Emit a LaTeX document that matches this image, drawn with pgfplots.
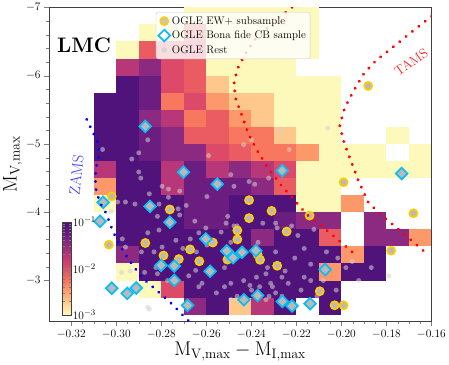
\documentclass[border=0pt]{standalone}
\usepackage{pgfplots}
\pgfplotsset{compat=1.18}
\usepgfplotslibrary{colormaps}
\usetikzlibrary{calc}
\definecolor{cbgold}{RGB}{255,205,0}
\definecolor{cbcyan}{RGB}{10,190,245}
\definecolor{ptgray}{RGB}{185,185,185}
\definecolor{restgray}{RGB}{210,210,210}
\pgfplotsset{colormap={magr}{rgb255(0pt)=(252,253,191) rgb255(10pt)=(254,207,146)
  rgb255(20pt)=(254,159,109) rgb255(30pt)=(247,112,92) rgb255(40pt)=(222,73,104)
  rgb255(50pt)=(183,55,121) rgb255(60pt)=(140,41,129) rgb255(70pt)=(100,26,128)
  rgb255(78pt)=(74,16,121)}}
% one histogram cell: 0.01 mag wide, 0.25 mag high at this axis scale
\pgfdeclareplotmark{cell}{\pgfpathrectangle{\pgfpoint{-11.8bp}{-8.95bp}}{\pgfpoint{23.6bp}{17.9bp}}\pgfusepathqfill}

% log10 density per bin (bin centres)
\pgfplotstableread{
x y c
-0.265 -6.875 -2.98
-0.255 -6.875 -2.98
-0.245 -6.875 -2.98
-0.235 -6.875 -2.98
-0.225 -6.875 -2.98
-0.215 -6.875 -2.98
-0.285 -6.625 -2.98
-0.275 -6.625 -2.98
-0.265 -6.625 -2.10
-0.255 -6.625 -2.98
-0.245 -6.625 -2.98
-0.235 -6.625 -2.98
-0.225 -6.625 -2.98
-0.215 -6.625 -2.98
-0.295 -6.375 -2.98
-0.285 -6.375 -2.10
-0.275 -6.375 -2.10
-0.265 -6.375 -1.97
-0.255 -6.375 -2.98
-0.245 -6.375 -2.98
-0.235 -6.375 -2.98
-0.225 -6.375 -2.98
-0.215 -6.375 -2.98
-0.295 -6.125 -1.72
-0.285 -6.125 -1.46
-0.275 -6.125 -1.97
-0.265 -6.125 -2.10
-0.255 -6.125 -2.98
-0.245 -6.125 -2.98
-0.235 -6.125 -2.98
-0.225 -6.125 -2.98
-0.295 -5.875 -1.05
-0.285 -5.875 -1.25
-0.275 -5.875 -1.97
-0.265 -5.875 -2.10
-0.255 -5.875 -2.70
-0.245 -5.875 -2.98
-0.235 -5.875 -2.98
-0.225 -5.875 -2.98
-0.215 -5.875 -2.98
-0.205 -5.875 -2.98
-0.305 -5.625 -1.05
-0.295 -5.625 -1.05
-0.285 -5.625 -1.25
-0.275 -5.625 -2.27
-0.265 -5.625 -1.97
-0.255 -5.625 -2.45
-0.245 -5.625 -2.70
-0.235 -5.625 -2.70
-0.225 -5.625 -2.98
-0.215 -5.625 -2.98
-0.205 -5.625 -2.98
-0.305 -5.375 -1.05
-0.295 -5.375 -1.05
-0.285 -5.375 -1.46
-0.275 -5.375 -1.72
-0.265 -5.375 -2.27
-0.255 -5.375 -2.10
-0.245 -5.375 -2.45
-0.235 -5.375 -2.70
-0.225 -5.375 -2.98
-0.215 -5.375 -2.98
-0.205 -5.375 -2.98
-0.305 -5.125 -1.05
-0.295 -5.125 -1.05
-0.285 -5.125 -1.25
-0.275 -5.125 -1.46
-0.265 -5.125 -2.10
-0.255 -5.125 -2.10
-0.245 -5.125 -2.27
-0.235 -5.125 -2.27
-0.225 -5.125 -2.70
-0.215 -5.125 -2.98
-0.205 -5.125 -2.98
-0.175 -5.125 -2.98
-0.305 -4.875 -1.05
-0.295 -4.875 -1.05
-0.285 -4.875 -1.25
-0.275 -4.875 -1.46
-0.265 -4.875 -1.46
-0.255 -4.875 -1.97
-0.245 -4.875 -2.10
-0.235 -4.875 -2.27
-0.225 -4.875 -2.27
-0.215 -4.875 -2.45
-0.205 -4.875 -2.98
-0.195 -4.875 -2.98
-0.185 -4.875 -2.98
-0.165 -4.875 -2.98
-0.305 -4.625 -1.72
-0.295 -4.625 -1.05
-0.285 -4.625 -1.05
-0.275 -4.625 -1.72
-0.265 -4.625 -1.25
-0.255 -4.625 -1.72
-0.245 -4.625 -1.46
-0.235 -4.625 -1.72
-0.225 -4.625 -1.97
-0.215 -4.625 -2.98
-0.205 -4.625 -2.98
-0.195 -4.625 -2.98
-0.185 -4.625 -2.98
-0.175 -4.625 -2.98
-0.165 -4.625 -2.98
-0.305 -4.375 -2.45
-0.295 -4.375 -1.05
-0.285 -4.375 -1.05
-0.275 -4.375 -1.72
-0.265 -4.375 -1.25
-0.255 -4.375 -1.25
-0.245 -4.375 -1.25
-0.235 -4.375 -1.46
-0.225 -4.375 -2.10
-0.215 -4.375 -2.98
-0.205 -4.375 -2.98
-0.305 -4.125 -2.98
-0.295 -4.125 -1.05
-0.285 -4.125 -1.05
-0.275 -4.125 -1.05
-0.265 -4.125 -1.25
-0.255 -4.125 -1.25
-0.245 -4.125 -1.05
-0.235 -4.125 -1.05
-0.225 -4.125 -1.05
-0.215 -4.125 -2.98
-0.205 -4.125 -2.98
-0.195 -4.125 -2.45
-0.295 -3.875 -1.05
-0.285 -3.875 -1.05
-0.275 -3.875 -1.05
-0.265 -3.875 -1.25
-0.255 -3.875 -1.25
-0.245 -3.875 -1.05
-0.235 -3.875 -1.05
-0.225 -3.875 -1.25
-0.215 -3.875 -1.46
-0.205 -3.875 -1.46
-0.185 -3.875 -1.46
-0.295 -3.625 -1.05
-0.285 -3.625 -1.05
-0.275 -3.625 -1.05
-0.265 -3.625 -1.05
-0.255 -3.625 -1.05
-0.245 -3.625 -1.05
-0.235 -3.625 -1.46
-0.225 -3.625 -1.05
-0.215 -3.625 -1.05
-0.205 -3.625 -2.10
-0.185 -3.625 -1.46
-0.175 -3.625 -1.46
-0.165 -3.625 -2.45
-0.295 -3.375 -1.46
-0.285 -3.375 -1.05
-0.275 -3.375 -1.05
-0.265 -3.375 -1.05
-0.255 -3.375 -1.05
-0.245 -3.375 -1.05
-0.235 -3.375 -1.05
-0.225 -3.375 -1.05
-0.215 -3.375 -1.05
-0.205 -3.375 -1.05
-0.195 -3.375 -2.45
-0.185 -3.375 -1.05
-0.295 -3.125 -2.98
-0.285 -3.125 -1.05
-0.275 -3.125 -1.05
-0.265 -3.125 -1.05
-0.255 -3.125 -1.05
-0.245 -3.125 -1.05
-0.235 -3.125 -1.05
-0.225 -3.125 -1.05
-0.215 -3.125 -1.05
-0.205 -3.125 -2.45
-0.195 -3.125 -1.05
-0.185 -3.125 -1.05
-0.285 -2.875 -2.98
-0.275 -2.875 -1.97
-0.265 -2.875 -1.05
-0.255 -2.875 -1.05
-0.245 -2.875 -1.05
-0.235 -2.875 -1.05
-0.225 -2.875 -1.05
-0.215 -2.875 -1.05
-0.205 -2.875 -1.05
-0.265 -2.625 -1.46
-0.255 -2.625 -1.05
-0.245 -2.625 -2.70
-0.235 -2.625 -1.72
-0.225 -2.625 -1.05
-0.205 -2.625 -1.05
-0.245 -2.375 -2.98
-0.235 -2.375 -2.98
}\hist

\pgfplotstableread{
x y
-0.2860 -5.06
-0.3061 -4.92
-0.2931 -4.78
-0.2900 -4.87
-0.2900 -4.59
-0.2891 -4.50
-0.2590 -4.83
-0.2271 -5.19
-0.2061 -5.23
-0.2232 -4.92
-0.2491 -4.55
-0.2410 -4.45
-0.2399 -5.06
-0.2434 -4.99
-0.2796 -4.38
-0.2768 -4.34
-0.2853 -4.27
-0.2718 -4.31
-0.2597 -4.23
-0.2477 -4.38
-0.2385 -4.41
-0.2323 -4.50
-0.2994 -4.15
-0.2959 -4.15
-0.2917 -4.12
-0.2810 -4.12
-0.2689 -4.10
-0.2725 -4.05
-0.3023 -4.01
-0.2817 -3.94
-0.2718 -3.96
-0.2651 -3.87
-0.2512 -3.84
-0.2349 -3.84
-0.2810 -3.74
-0.2860 -3.70
-0.2735 -3.59
-0.2671 -3.61
-0.2633 -3.70
-0.2602 -3.77
-0.2534 -3.71
-0.2477 -3.80
-0.2285 -3.77
-0.2973 -3.61
-0.2959 -3.49
-0.2888 -3.42
-0.2832 -3.42
-0.2796 -3.49
-0.2704 -3.47
-0.2644 -3.42
-0.2597 -3.52
-0.2491 -3.56
-0.2370 -3.56
-0.2292 -3.42
-0.2874 -3.12
-0.2817 -3.10
-0.2772 -3.00
-0.2678 -3.07
-0.2647 -3.15
-0.2619 -2.96
-0.2519 -3.19
-0.2491 -2.96
-0.2434 -3.00
-0.2377 -3.05
-0.2328 -3.19
-0.2314 -2.96
-0.2264 -3.05
-0.2976 -3.12
-0.2633 -2.91
-0.2555 -2.82
-0.2491 -2.72
-0.2399 -2.86
-0.2321 -2.77
-0.2853 -2.58
-0.2264 -2.77
-0.2505 -3.94
-0.2463 -3.80
-0.2292 -3.84
-0.2221 -3.80
-0.2193 -3.66
-0.2122 -3.75
-0.2165 -3.47
-0.2207 -3.33
-0.2136 -3.24
-0.2066 -3.42
-0.2016 -3.33
-0.1980 -3.19
-0.1952 -3.28
-0.1923 -3.00
-0.1867 -3.19
-0.1789 -3.07
-0.2080 -3.00
-0.2136 -3.00
-0.2179 -2.86
-0.2108 -2.77
-0.2023 -2.86
-0.2406 -2.93
-0.2363 -2.91
-0.2306 -2.91
-0.2236 -2.96
-0.2335 -3.10
-0.2250 -3.14
-0.2165 -3.05
-0.2519 -2.91
-0.2463 -2.77
-0.2335 -2.72
-0.2292 -2.82
-0.2860 -2.61
-0.2938 -3.14
-0.2824 -3.19
-0.2768 -4.22
}\rest

\pgfplotstableread{
x y
-0.1881 -5.850
-0.1990 -4.440
-0.3020 -4.233
-0.2762 -4.041
-0.3033 -3.526
-0.2871 -3.550
-0.2672 -3.456
-0.2571 -3.557
-0.2790 -3.367
-0.2722 -3.314
-0.2631 -3.283
-0.2410 -4.177
-0.2310 -4.020
-0.2410 -3.914
-0.2141 -3.952
-0.2243 -3.718
-0.2462 -3.734
-0.2462 -3.603
-0.2372 -3.381
-0.2361 -3.304
-0.2285 -3.217
-0.2506 -3.307
-0.2096 -2.844
-0.2030 -2.638
-0.1990 -2.638
-0.1779 -3.438
-0.1680 -3.985
}\ewplus

\pgfplotstableread{
x y
-0.2871 -5.257
-0.2701 -4.588
-0.2551 -4.412
-0.2263 -4.609
-0.1732 -4.567
-0.3058 -4.146
-0.2850 -4.087
-0.2762 -3.854
-0.3072 -3.868
-0.2602 -3.610
-0.2509 -3.433
-0.2481 -3.335
-0.2441 -3.414
-0.2380 -3.438
-0.2801 -3.224
-0.2742 -3.213
-0.2742 -3.003
-0.2583 -3.136
-0.3020 -2.888
-0.2951 -2.812
-0.2911 -2.891
-0.2683 -2.638
-0.2433 -2.719
-0.2372 -2.781
-0.2262 -2.694
-0.2219 -2.628
-0.2139 -2.662
-0.2072 -3.161
}\bonafide

\begin{document}
\begin{tikzpicture}
\begin{axis}[
    scale only axis,
    width=399.5bp, height=328bp,
    xmin=-0.33, xmax=-0.16,
    ymin=-7, ymax=-2.4,
    y dir=reverse,
    xtick={-0.32,-0.30,...,-0.159},
    ytick={-7,-6,-5,-4,-3},
    minor x tick num=3,
    minor y tick num=4,
    tick pos=left,
    tick align=outside,
    major tick length=5bp,
    minor tick length=3bp,
    axis line style={black!75},
    xticklabel style={/pgf/number format/.cd, fixed, fixed zerofill, precision=2},
    tick label style={font=\fontsize{12.5}{14}\selectfont},
    label style={font=\fontsize{21}{24}\selectfont},
    xlabel={$\mathrm{M_{V,max}-M_{I,max}}$},
    ylabel={$\mathrm{M_{V,max}}$},
    xlabel style={yshift=3bp},
    ylabel style={yshift=-3bp},
    clip marker paths=true,
    colormap name=magr,
    point meta min=-3, point meta max=-1,
    colorbar,
    colorbar style={
        at={($(parent axis.south west)+(6bp,7bp)$)},
        anchor=south west,
        width=9.2bp, height=97bp,
        ytick={-3,-2,-1},
        yticklabels={$10^{-3}$,$10^{-2}$,$10^{-1}$},
        minor ytick={-2.699,-2.523,-2.398,-2.301,-2.222,-2.155,-2.097,-2.046,
                     -1.699,-1.523,-1.398,-1.301,-1.222,-1.155,-1.097,-1.046},
        major tick length=4bp, minor tick length=2.5bp,
        tick label style={font=\fontsize{12.5}{14}\selectfont},
        yticklabel style={xshift=-2bp},
        axis line style={black!75},
    },
    legend style={at={(0.28,0.985)}, anchor=north west,
        font=\fontsize{11.5}{13.5}\selectfont,
        fill=white, fill opacity=0.8, text opacity=1, draw opacity=1,
        draw=black!20, rounded corners=2.5pt, inner sep=2.5pt,
        row sep=1.5bp, cells={anchor=west}},
    legend cell align=left,
]
% 2D histogram
\addplot[scatter, only marks, mark=cell, point meta=explicit,
    scatter/use mapped color={draw=none, fill=mapped color}, forget plot]
    table[x=x, y=y, meta=c] {\hist};

% OGLE rest
\addplot[only marks, mark=*, mark size=2.6bp, color=restgray,
    fill opacity=0.55, draw opacity=0, forget plot]
    table[x=x, y=y] {\rest};

% OGLE EW+ subsample
\addplot[only marks, mark=*, mark size=4.2bp,
    mark options={draw=cbgold, fill=ptgray, line width=1.8bp}, forget plot]
    table[x=x, y=y] {\ewplus};

% bona fide CB sample
\addplot[only marks, mark=square*, mark size=4.3bp,
    mark options={rotate=45, draw=cbcyan, fill=ptgray, line width=1.8bp}, forget plot]
    table[x=x, y=y] {\bonafide};

% ZAMS
\addplot[blue, line width=3.4bp, line cap=round, dash pattern=on 0.01bp off 8.5bp, forget plot]
    coordinates {
    (-0.3131,-5.36) (-0.3080,-5.01) (-0.3075,-4.88) (-0.3092,-4.60)
    (-0.3092,-4.36) (-0.3080,-4.22) (-0.3066,-4.10) (-0.3044,-3.98)
    (-0.3016,-3.73) (-0.2980,-3.49) (-0.2938,-3.28) (-0.2888,-3.05)
    (-0.2832,-2.89) (-0.2760,-2.68) (-0.2697,-2.47) (-0.2675,-2.40)};

% TAMS
\addplot[red, line width=3.4bp, line cap=round, dash pattern=on 0.01bp off 8.5bp, forget plot]
    coordinates {
    (-0.2219,-7.00) (-0.2292,-6.81) (-0.2377,-6.56) (-0.2427,-6.32)
    (-0.2463,-6.09) (-0.2477,-5.88) (-0.2470,-5.67) (-0.2441,-5.41)
    (-0.2413,-5.15) (-0.2377,-4.92) (-0.2328,-4.66) (-0.2271,-4.41)
    (-0.2207,-4.17) (-0.2151,-3.96) (-0.2087,-3.80) (-0.2023,-3.62)
    (-0.1959,-3.44) (-0.1926,-3.35)};
\addplot[red, line width=3.4bp, line cap=round, dash pattern=on 0.01bp off 8.5bp, forget plot]
    coordinates {
    (-0.1599,-6.87) (-0.1680,-6.66) (-0.1774,-6.41) (-0.1843,-6.23)
    (-0.1898,-6.04) (-0.1945,-5.78) (-0.1985,-5.53) (-0.2007,-5.27)
    (-0.1987,-5.01) (-0.1955,-4.73) (-0.1923,-4.45) (-0.1881,-4.15)
    (-0.1824,-3.96) (-0.1760,-3.79) (-0.1697,-3.61) (-0.1633,-3.43)};

\addlegendimage{only marks, mark=*, mark size=4.2bp,
    mark options={draw=cbgold, fill=ptgray, line width=1.8bp}}
\addlegendentry{OGLE EW+ subsample}
\addlegendimage{only marks, mark=square*, mark size=4.3bp,
    mark options={rotate=45, draw=cbcyan, fill=white, line width=1.8bp}}
\addlegendentry{OGLE Bona fide CB sample}
\addlegendimage{only marks, mark=*, mark size=2.6bp, color=restgray}
\addlegendentry{OGLE Rest}

\node[font=\bfseries\fontsize{22}{24}\selectfont] at (axis cs:-0.3143,-6.44) {LMC};
\node[blue!80, rotate=84, font=\fontsize{16}{18}\selectfont] at (axis cs:-0.3177,-4.55) {ZAMS};
\node[red!85, rotate=35, font=\fontsize{14}{16}\selectfont] at (axis cs:-0.1690,-6.20) {TAMS};
\end{axis}
\end{tikzpicture}
\end{document}
